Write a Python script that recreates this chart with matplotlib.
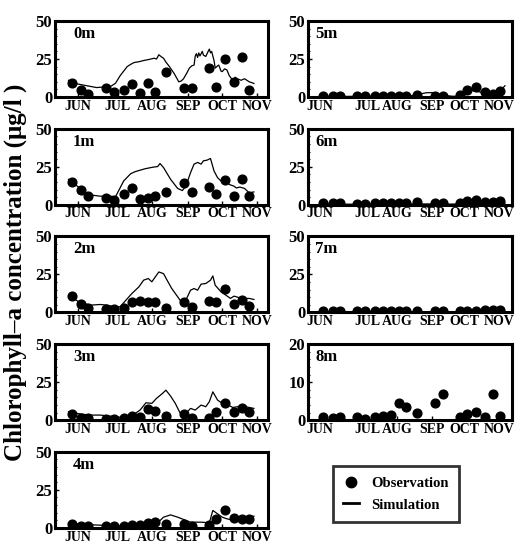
# Chlorophyll-a observation vs simulation by depth
import numpy as np
import matplotlib.pyplot as plt
from matplotlib.ticker import AutoMinorLocator
from matplotlib.lines import Line2D

plt.rcParams['font.family'] = ['Liberation Serif', 'DejaVu Serif']
plt.rcParams['font.weight'] = 'bold'

# days counted from the first sampling date
obs_days = [0, 8, 14, 29, 36, 44, 51, 58, 65, 71, 80, 95, 102, 117, 123, 130, 138, 145, 151]
months = ['JUN', 'JUL', 'AUG', 'SEP', 'OCT', 'NOV']

obs_0m = [8.9, 4.9, 2.2, 5.6, 3.3, 4.4, 8.4, 2.7, 9.3, 3.1, 16.7, 5.6, 6.2, 18.9, 6.7, 25.1, 10.0, 26.2, 4.9]
obs_1m = [14.9, 10.0, 5.6, 4.4, 3.3, 7.1, 10.7, 4.0, 4.4, 6.0, 8.2, 14.4, 8.2, 11.6, 7.1, 16.0, 6.0, 16.7, 5.6]
obs_2m = [10.9, 5.2, 3.1, 2.0, 2.0, 2.6, 6.6, 7.4, 6.6, 7.0, 3.1, 6.6, 3.3, 7.4, 6.6, 15.7, 5.2, 8.1, 4.4]
obs_3m = [3.9, 1.5, 1.5, 0.7, 0.7, 1.5, 2.9, 2.2, 7.0, 5.9, 2.6, 3.7, 1.5, 1.5, 5.5, 11.4, 5.5, 8.1, 5.5]
obs_4m = [2.6, 1.5, 1.5, 0.9, 0.9, 1.5, 2.0, 2.0, 3.1, 3.7, 2.6, 2.6, 1.5, 2.0, 5.9, 11.4, 6.3, 5.5, 5.5]
obs_5m = [0.7, 0.7, 0.7, 0.5, 0.5, 0.7, 0.7, 0.7, 0.7, 0.7, 1.1, 0.4, 0.4, 1.1, 4.5, 6.7, 3.4, 2.2, 3.8]
obs_6m = [1.0, 0.9, 0.9, 0.7, 0.7, 0.8, 0.9, 1.0, 1.0, 1.0, 1.6, 0.8, 0.8, 1.1, 2.7, 2.9, 1.8, 1.8, 2.7]
obs_7m = [0.8, 1.1, 1.1, 0.7, 0.7, 0.6, 0.8, 1.0, 1.1, 1.1, 0.9, 1.0, 1.0, 1.0, 1.2, 1.2, 1.5, 1.5, 1.5]
obs_8m = [0.7, 0.6, 0.7, 0.7, 0.4, 0.9, 1.1, 1.3, 4.4, 3.5, 1.9, 4.4, 7.0, 0.7, 1.6, 2.2, 0.9, 7.0, 1.1]

sim_0m_day = [-3, 0, 10, 21, 33, 37, 41, 44, 47, 50, 53, 57, 61, 65, 70, 72, 74, 76, 78, 80, 83, 87, 91, 93, 95, 98,
              100, 102, 104, 105, 106, 107, 108, 109, 111, 112, 114, 116, 117, 118, 119, 121, 122, 124, 125, 127,
              128, 130, 132, 134, 137, 139, 141, 144, 147, 149, 151, 153, 155]
sim_0m = [11, 9.3, 7.8, 6.2, 7.0, 9.0, 14, 17, 20, 21.5, 22.7, 23.2, 24, 24.6, 25.5, 25, 27.8, 26.5, 25.5, 23, 20, 15.5,
          10, 10.5, 12, 16, 19, 20.5, 21, 27, 28.5, 26, 29, 27, 30, 27.5, 26.7, 30, 31.5, 29, 30, 24, 19, 20.5, 21,
          17, 16.7, 18.5, 17.8, 14, 11, 13, 12, 11, 12, 11, 10, 9.5, 8.9]

sim_1m_day = [-3, 0, 7, 13, 24, 33, 37, 44, 50, 54, 58, 62, 67, 70, 73, 75, 78, 84, 90, 94, 97, 101, 104, 107, 110,
              112, 115, 118, 121, 124, 127, 130, 134, 138, 140, 143, 147, 151, 155]
sim_1m = [16.7, 14.9, 10.7, 6.7, 5.6, 5.6, 5.1, 15.6, 20.4, 21.8, 22.7, 23.6, 24.4, 24.8, 25.1, 27.1, 24.4, 16.7, 10.7,
          9.3, 12.2, 21.1, 26.7, 27.8, 26.7, 28.9, 29.3, 30.4, 22.2, 17.8, 15.6, 16.7, 13.3, 12.2, 11, 11.6, 10.7, 7.8,
          8.4]

sim_2m_day = [0, 7, 16, 24, 30, 36, 41, 46, 51, 57, 61, 65, 68, 71, 74, 78, 81, 85, 90, 94, 97, 101, 104, 107, 110,
              114, 118, 120, 122, 127, 131, 135, 138, 142, 147, 151, 155]
sim_2m = [9.8, 6.3, 4.8, 5.2, 4.8, 3.7, 3.7, 8.1, 12.4, 16.8, 21.2, 22.3, 20.1, 23.4, 26.6, 25.5, 21.2, 15.7, 10.3, 5.9,
          8.1, 14.6, 15.7, 14.6, 18.6, 19.0, 21.2, 24.0, 17.9, 13.5, 11.4, 9.2, 10.7, 9.8, 9.2, 9.2, 8.5]

sim_3m_day = [-3, 4, 15, 24, 33, 41, 47, 53, 58, 63, 68, 72, 77, 80, 84, 88, 92, 97, 101, 105, 110, 114, 117, 120,
              124, 128, 133, 137, 141, 146, 151, 155]
sim_3m = [5.5, 4.4, 3.3, 3.3, 2.6, 1.8, 2.6, 3.9, 6.6, 11.4, 11.0, 14.3, 17.5, 19.7, 15.8, 11.0, 4.8, 4.4, 7.7, 6.6,
          9.9, 8.8, 12.1, 18.6, 13.2, 11.0, 9.9, 8.3, 8.8, 9.2, 8.3, 7.7]

sim_4m_day = [-3, 4, 16, 30, 41, 53, 64, 73, 78, 84, 90, 95, 101, 110, 117, 120, 124, 128, 132, 138, 144, 149, 153, 155]
sim_4m = [3.3, 2.6, 2.0, 1.5, 1.1, 2.0, 2.6, 3.3, 7.0, 8.5, 7.0, 5.5, 3.7, 3.7, 3.3, 11.4, 9.2, 7.0, 5.9, 4.8, 4.8,
          6.3, 7.6, 7.6]

sim_5m_day = [-3, 20, 40, 60, 75, 80, 84, 88, 93, 98, 103, 110, 115, 118, 121, 125, 130, 137, 142, 148, 152, 155]
sim_5m = [0.5, 0.4, 0.5, 0.6, 0.8, 1.5, 2.2, 2.8, 2.9, 2.0, 1.1, 0.5, 0.5, 1.5, 4.0, 4.5, 3.8, 2.9, 1.6, 2.2, 5.0, 7.4]

sim_6m_day = [-3, 30, 60, 90, 110, 120, 130, 140, 150, 155]
sim_6m = [0.4, 0.3, 0.4, 0.5, 0.4, 0.6, 0.7, 0.6, 0.8, 1.0]

sim_7m_day = [-3, 30, 60, 90, 120, 150, 155]
sim_7m = [0.3, 0.2, 0.3, 0.3, 0.3, 0.4, 0.4]

left = [('0m', obs_0m, sim_0m_day, sim_0m), ('1m', obs_1m, sim_1m_day, sim_1m),
        ('2m', obs_2m, sim_2m_day, sim_2m), ('3m', obs_3m, sim_3m_day, sim_3m),
        ('4m', obs_4m, sim_4m_day, sim_4m)]
right = [('5m', obs_5m, sim_5m_day, sim_5m), ('6m', obs_6m, sim_6m_day, sim_6m),
         ('7m', obs_7m, sim_7m_day, sim_7m), ('8m', obs_8m, None, None)]

W, H = 515, 545
fig = plt.figure(figsize=(W / 100, H / 100), dpi=100)


def panel(px_left, px_width, row, label, obs, sday, sim, xlim, xt, lab_x, ymax=50):
    top = 21 + row * 107.7
    ax = fig.add_axes([px_left / W, 1 - (top + 76) / H, px_width / W, 76 / H])
    if sday is not None:
        ax.plot(sday, sim, color='black', lw=0.9)
    ax.plot(obs_days, obs, 'o', color='black', ms=6.3)
    ax.set_xlim(*xlim)
    ax.set_ylim(0, ymax)
    ax.set_yticks([0, ymax / 2, ymax])
    ax.set_yticklabels(['0', str(int(ymax / 2)), str(int(ymax))], fontsize=12, fontweight='bold')
    ax.yaxis.set_minor_locator(AutoMinorLocator(5))
    ax.set_xticks(xt)
    ax.set_xticklabels(months, fontsize=10, fontweight='bold')
    ax.tick_params(axis='both', which='major', direction='in', length=3, width=1, pad=2)
    ax.tick_params(axis='y', which='minor', direction='in', length=1.5, width=0.8)
    ax.tick_params(top=False, right=False)
    for s in ax.spines.values():
        s.set_linewidth(2.2)
    ax.text(lab_x, 0.83, label, transform=ax.transAxes, fontsize=12, fontweight='bold', va='center')
    return ax


for i, (lab, o, sd, s) in enumerate(left):
    panel(55, 213, i, lab, o, sd, s, (-14.5, 167), [5, 39, 68, 99, 128, 158], 0.085)

for i, (lab, o, sd, s) in enumerate(right):
    panel(308, 204, i, lab, o, sd, s, (-13, 161), [-3, 38, 63, 93, 120, 150], 0.035,
          ymax=20 if lab == '8m' else 50)

fig.text(0.03, 0.5, 'Chlorophyll\u2013a concentration (\u03bcg/l )', rotation=90,
         ha='center', va='center', fontsize=18, fontweight='bold')

handles = [Line2D([], [], marker='o', color='black', ls='none', ms=7.5),
           Line2D([], [], color='black', lw=2)]
leg = fig.legend(handles, ['Observation', 'Simulation'], loc='center',
                 bbox_to_anchor=(396 / W, 1 - 494 / H), frameon=True, fancybox=False,
                 prop={'size': 10.5, 'weight': 'bold'}, handlelength=1.1, borderpad=0.7,
                 labelspacing=0.6)
leg.get_frame().set_edgecolor('black')
leg.get_frame().set_linewidth(2)

fig.savefig('out.png', dpi=100)
